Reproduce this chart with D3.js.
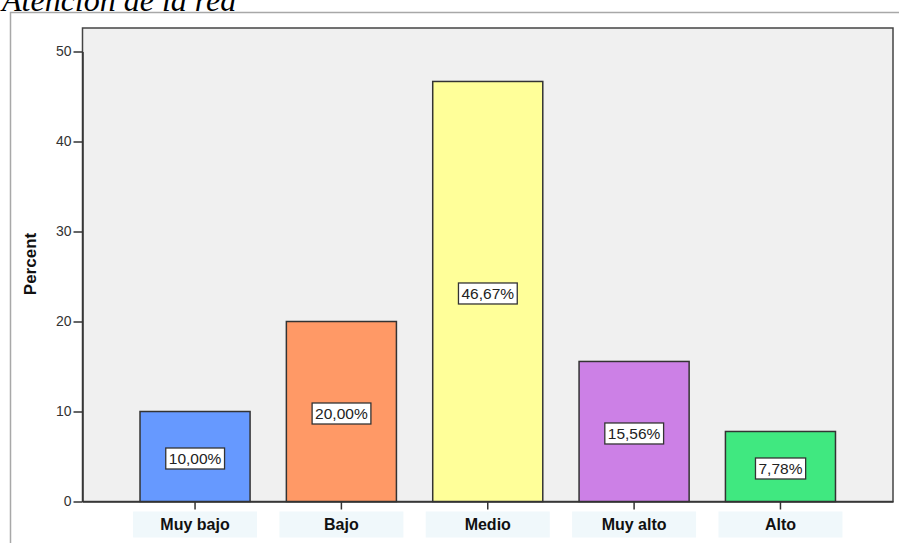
<!DOCTYPE html>
<html><head><meta charset="utf-8">
<script src="https://cdn.jsdelivr.net/npm/d3@7"></script>
<style>body{margin:0;background:#fff;}svg{display:block;}</style>
</head><body>
<svg id="c" width="899" height="543"></svg>
<script>
const categories = ["Muy bajo", "Bajo", "Medio", "Muy alto", "Alto"];
const percents = [10.00, 20.00, 46.67, 15.56, 7.78];
const barColors = ["#6699ff", "#ff9966", "#ffff99", "#cc80e6", "#40e880"];
const yTicks = [0, 10, 20, 30, 40, 50];
const chartTitle = "Atención de la red";
const yTitle = "Percent";

const svg = d3.select("#c");
const W = 899, H = 543;
const plot = {left: 82.5, right: 893, top: 28, bottom: 501.5};

// title (cut at top, as in the reference)
svg.append("text").attr("x", 2).attr("y", 10.5)
  .attr("font-family", "Liberation Serif, Times New Roman, serif")
  .attr("font-style", "italic").attr("font-size", 32).attr("fill", "#000")
  .text(chartTitle);

// outer frame
svg.append("path").attr("d", `M10.5,${H + 2}V12.5H${W + 2}`)
  .attr("fill", "none").attr("stroke", "#a8a8a8").attr("stroke-width", 1.5);

const x = d3.scaleBand().domain(categories)
  .range([plot.left, plot.right]).paddingInner(0.248).paddingOuter(0.393);
const y = d3.scaleLinear().domain([0, 50]).range([plot.bottom, plot.bottom - 450]);

// plot background
svg.append("rect").attr("x", plot.left).attr("y", plot.top)
  .attr("width", plot.right - plot.left).attr("height", plot.bottom - plot.top)
  .attr("fill", "#f0f0f0").attr("stroke", "#444").attr("stroke-width", 1.5);

// bars
svg.append("g").selectAll("rect").data(percents).join("rect")
  .attr("x", (d, i) => x(categories[i]))
  .attr("y", d => y(d))
  .attr("width", x.bandwidth())
  .attr("height", d => y(0) - y(d))
  .attr("fill", (d, i) => barColors[i])
  .attr("stroke", "#333").attr("stroke-width", 1.5);

// y axis
const yAxis = svg.append("g").attr("transform", `translate(${plot.left},0)`)
  .call(d3.axisLeft(y).tickValues(yTicks).tickSize(9).tickSizeOuter(0).tickPadding(2).tickFormat(d3.format("d")));
yAxis.select(".domain").attr("stroke", "#333").attr("stroke-width", 1.5);
yAxis.selectAll(".tick line").attr("stroke", "#333").attr("stroke-width", 1.5);
yAxis.selectAll(".tick text").attr("font-family", "Liberation Sans, Arial, sans-serif")
  .attr("font-size", 14).attr("fill", "#333");

// x axis
const xAxis = svg.append("g").attr("transform", `translate(0,${plot.bottom})`)
  .call(d3.axisBottom(x).tickSize(8).tickSizeOuter(0).tickFormat(""));
xAxis.select(".domain").attr("stroke", "#333").attr("stroke-width", 1.5);
xAxis.selectAll(".tick line").attr("stroke", "#333").attr("stroke-width", 1.5);

// x label boxes
const lab = svg.append("g").selectAll("g").data(categories).join("g")
  .attr("transform", d => `translate(${x(d) + x.bandwidth() / 2},0)`);
lab.append("rect").attr("x", -62).attr("y", 511.5).attr("width", 124).attr("height", 26)
  .attr("fill", "#f0f8fb");
lab.append("text").attr("y", 530).attr("text-anchor", "middle")
  .attr("font-family", "Liberation Sans, Arial, sans-serif").attr("font-weight", "bold")
  .attr("font-size", 16).attr("fill", "#111").text(d => d);

// y title
svg.append("text").attr("transform", "translate(35.5,264) rotate(-90)")
  .attr("text-anchor", "middle")
  .attr("font-family", "Liberation Sans, Arial, sans-serif").attr("font-weight", "bold")
  .attr("font-size", 17).attr("fill", "#111").text(yTitle);

// value labels
const fmt = v => v.toFixed(2).replace(".", ",") + "%";
const vl = svg.append("g").selectAll("g").data(percents).join("g")
  .attr("transform", (d, i) => `translate(${x(categories[i]) + x.bandwidth() / 2},${(y(d) + y(0)) / 2 + 2})`);
vl.append("text").attr("text-anchor", "middle").attr("dy", "0.36em")
  .attr("font-family", "Liberation Sans, Arial, sans-serif").attr("font-size", 15.5)
  .attr("fill", "#222").text(d => fmt(d));
vl.each(function() {
  const g = d3.select(this);
  const bb = g.select("text").node().getBBox();
  g.insert("rect", "text").attr("x", bb.x - 3).attr("y", -10.5)
    .attr("width", bb.width + 6).attr("height", 21)
    .attr("fill", "#fff").attr("stroke", "#333").attr("stroke-width", 1.3);
});
</script>
</body></html>
